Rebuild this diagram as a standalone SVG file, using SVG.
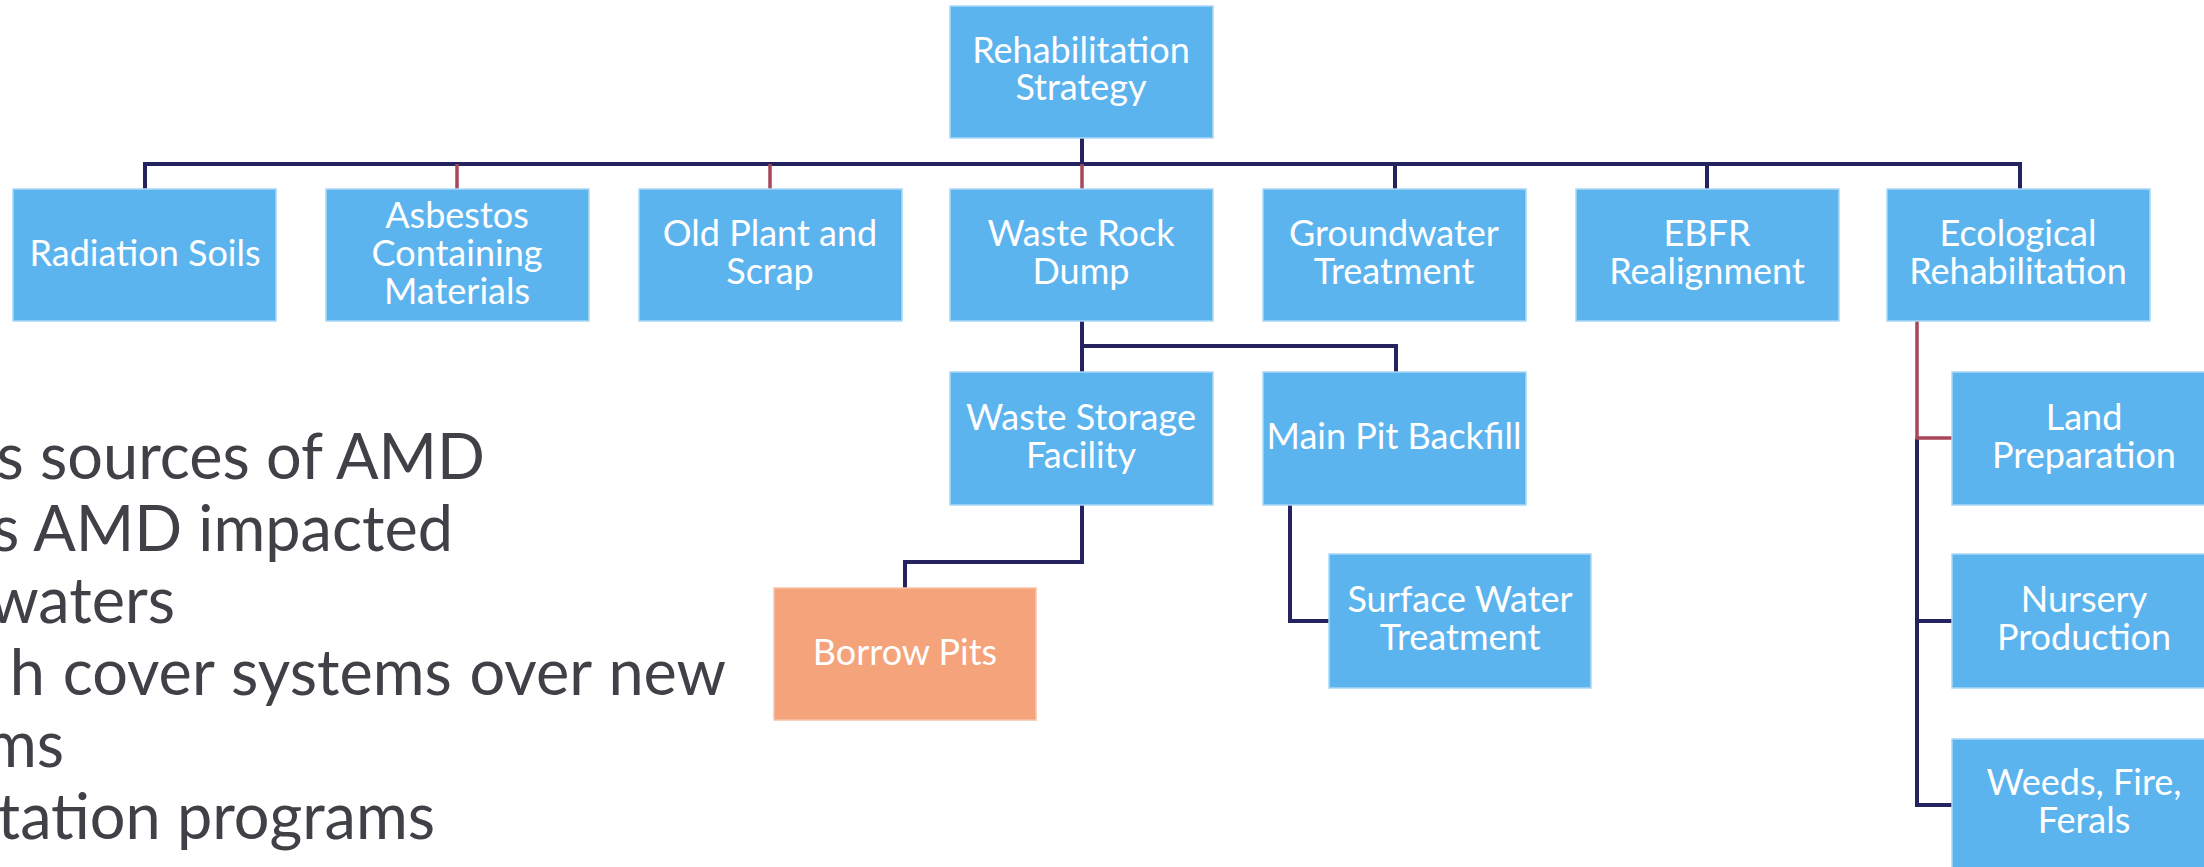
<svg xmlns="http://www.w3.org/2000/svg" width="2204" height="867" viewBox="0 0 2204 867">
<style>
.box{fill:#5cb4ef;stroke:#a9d8f7;stroke-width:1.5}
.pit{fill:#f4a37b;stroke:#f8c3a8;stroke-width:1.5}
.lbl{font-family:Lato,"Open Sans",sans-serif;font-size:36px;fill:#ffffff;text-anchor:middle}
.body{font-family:Lato,"Open Sans",sans-serif;font-size:63px;fill:#414046;text-anchor:end}
.navy{fill:none;stroke:#24225f;stroke-width:4}
.red{fill:none;stroke:#a8475a;stroke-width:3.5}
</style>
<rect width="2204" height="867" fill="#ffffff"/>
<g id="body-text">
<text class="body" x="485" y="479">s sources of AMD</text>
<text class="body" x="453" y="551">s AMD impacted</text>
<text class="body" x="175" y="623">waters</text>
<text class="body" x="726" y="695" word-spacing="1.5">h cover systems over new</text>
<text class="body" x="64" y="767">ms</text>
<text class="body" x="435" y="839">tation programs</text>
</g>
<g id="connectors">
<path class="navy" d="M1082 138V164"/>
<path class="navy" stroke-width="5" d="M145 189V164H2020V189"/>
<path class="navy" d="M1395 164V189M1707 164V189"/>
<path class="red" d="M457 164V189M770 164V189M1082 164V189"/>
<path class="navy" d="M1082 321V372M1082 346H1396V372"/>
<path class="navy" d="M1082 505V562H905V588"/>
<path class="navy" d="M1290 505V621H1329"/>
<path class="navy" d="M1917 438V805H1952M1917 621H1952"/>
<path class="red" stroke-width="4" d="M1917 321V438H1952"/>
</g>
<g id="n-rehab"><rect class="box" x="950" y="6" width="263" height="132"/><text class="lbl" x="1081" y="63">Rehabilitation</text><text class="lbl" x="1081" y="100">Strategy</text></g>
<g id="n-radiation"><rect class="box" x="13" y="189" width="263" height="132"/><text class="lbl" x="145" y="266">Radiation Soils</text></g>
<g id="n-asbestos"><rect class="box" x="326" y="189" width="263" height="132"/><text class="lbl" x="457" y="228">Asbestos</text><text class="lbl" x="457" y="266">Containing</text><text class="lbl" x="457" y="304">Materials</text></g>
<g id="n-oldplant"><rect class="box" x="639" y="189" width="263" height="132"/><text class="lbl" x="770" y="246">Old Plant and</text><text class="lbl" x="770" y="284">Scrap</text></g>
<g id="n-wasterock"><rect class="box" x="950" y="189" width="263" height="132"/><text class="lbl" x="1081" y="246">Waste Rock</text><text class="lbl" x="1081" y="284">Dump</text></g>
<g id="n-groundwater"><rect class="box" x="1263" y="189" width="263" height="132"/><text class="lbl" x="1394" y="246">Groundwater</text><text class="lbl" x="1394" y="284">Treatment</text></g>
<g id="n-ebfr"><rect class="box" x="1576" y="189" width="263" height="132"/><text class="lbl" x="1707" y="246">EBFR</text><text class="lbl" x="1707" y="284">Realignment</text></g>
<g id="n-ecological"><rect class="box" x="1887" y="189" width="263" height="132"/><text class="lbl" x="2018" y="246">Ecological</text><text class="lbl" x="2018" y="284">Rehabilitation</text></g>
<g id="n-wsf"><rect class="box" x="950" y="372" width="263" height="133"/><text class="lbl" x="1081" y="430">Waste Storage</text><text class="lbl" x="1081" y="468">Facility</text></g>
<g id="n-mainpit"><rect class="box" x="1263" y="372" width="263" height="133"/><text class="lbl" x="1394" y="449">Main Pit Backfill</text></g>
<g id="n-borrow"><rect class="pit" x="774" y="588" width="262" height="132"/><text class="lbl" x="905" y="665" fill="#fdf0e8">Borrow Pits</text></g>
<g id="n-surface"><rect class="box" x="1329" y="554" width="262" height="134"/><text class="lbl" x="1460" y="612">Surface Water</text><text class="lbl" x="1460" y="650">Treatment</text></g>
<g id="n-land"><rect class="box" x="1952" y="372" width="263" height="133"/><text class="lbl" x="2084" y="430">Land</text><text class="lbl" x="2084" y="468">Preparation</text></g>
<g id="n-nursery"><rect class="box" x="1952" y="554" width="263" height="134"/><text class="lbl" x="2084" y="612">Nursery</text><text class="lbl" x="2084" y="650">Production</text></g>
<g id="n-weeds"><rect class="box" x="1952" y="739" width="263" height="134"/><text class="lbl" x="2084" y="795">Weeds, Fire,</text><text class="lbl" x="2084" y="833">Ferals</text></g>
</svg>
